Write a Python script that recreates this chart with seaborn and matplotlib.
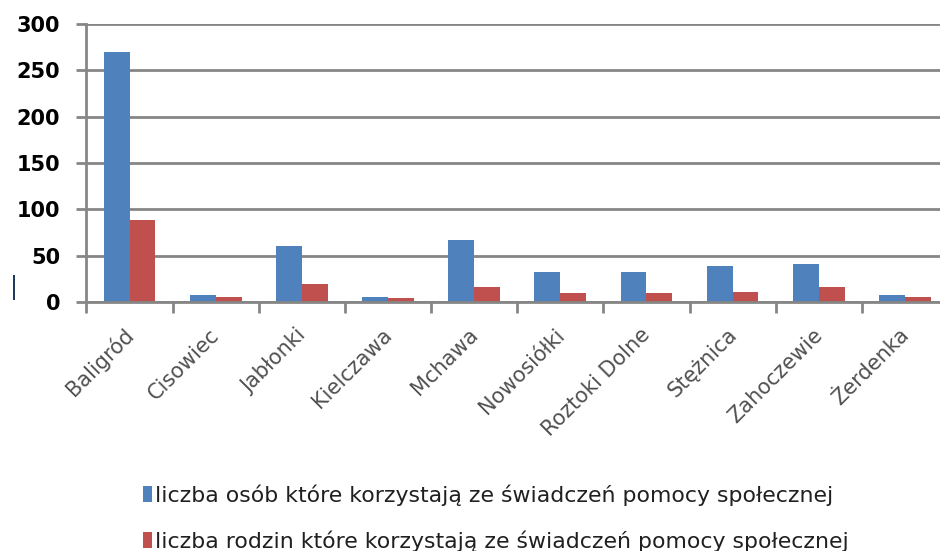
import matplotlib
matplotlib.use("Agg")
import matplotlib.pyplot as plt
import matplotlib.transforms as mtransforms
from matplotlib.patches import Patch
import seaborn as sns
import pandas as pd

categories = ["Baligród", "Cisowiec", "Jabłonki", "Kielczawa", "Mchawa",
              "Nowosiółki", "Roztoki Dolne", "Stężnica", "Zahoczewie", "Żerdenka"]
osoby = [270, 7, 60, 5, 67, 32, 32, 39, 41, 7]
rodziny = [88, 5, 19, 4, 16, 10, 10, 11, 16, 5]
series_names = ["liczba osób które korzystają ze świadczeń pomocy społecznej",
                "liczba rodzin które korzystają ze świadczeń pomocy społecznej"]
yticks = [0, 50, 100, 150, 200, 250, 300]

colors = ["#4F81BD", "#C0504D"]
grey = "#868686"

sns.set_theme(style="white")
plt.rcParams['font.family'] = ['DejaVu Sans']

df = pd.DataFrame({
    "kategoria": categories * 2,
    "wartosc": osoby + rodziny,
    "seria": [series_names[0]] * len(categories) + [series_names[1]] * len(categories),
})

fig = plt.figure(figsize=(9.4, 5.51), dpi=100)
ax = fig.add_axes([0.092, 0.452, 0.9165, 0.5044])

sns.barplot(data=df, x="kategoria", y="wartosc", hue="seria", palette=colors,
            width=0.6, saturation=1, ax=ax, legend=False, errorbar=None, zorder=3)
for p in ax.patches:
    p.set_edgecolor("none")

ax.set_ylim(0, 300)
ax.set_xlim(-0.5, len(categories) - 0.5)
ax.set_yticks(yticks)
ax.set_yticklabels([str(v) for v in yticks], fontsize=15, fontweight="bold", color="black")
ax.yaxis.grid(True, color=grey, linewidth=2, zorder=0)
ax.set_axisbelow(True)
ax.set_xlabel("")
ax.set_ylabel("")

for s in ["top", "right"]:
    ax.spines[s].set_visible(False)
for s in ["left", "bottom"]:
    ax.spines[s].set_color(grey)
    ax.spines[s].set_linewidth(2)
    ax.spines[s].set_zorder(4)

ax.tick_params(axis="y", which="major", left=True, length=7, width=2, color=grey, pad=12)
ax.tick_params(axis="x", which="major", length=0, pad=2)
ax.set_xticks([i - 0.5 for i in range(len(categories) + 1)], minor=True)
ax.tick_params(axis="x", which="minor", bottom=True, length=8, width=2, color=grey)

ax.set_xticks(range(len(categories)))
ax.set_xticklabels(categories, rotation=45, ha="right", va="center",
                   rotation_mode="anchor", fontsize=15, color="#505050")
offset = mtransforms.ScaledTranslation(1 / 100, -27 / 100, fig.dpi_scale_trans)
for lbl in ax.get_xticklabels():
    lbl.set_transform(lbl.get_transform() + offset)

handles = [Patch(facecolor=c, edgecolor="none") for c in colors]
fig.legend(handles, series_names, loc="upper left", bbox_to_anchor=(0.152, 0.121),
           ncol=1, frameon=False, fontsize=15.8, handlelength=0.42, handleheight=0.75,
           handletextpad=0.15, labelspacing=1.12, borderaxespad=0, borderpad=0,
           labelcolor="#202020")

fig.text(0.0145, 0.478, "|", fontsize=17, color="#1F3A5F", ha="center", va="center")

fig.savefig("out.png", dpi=100)
